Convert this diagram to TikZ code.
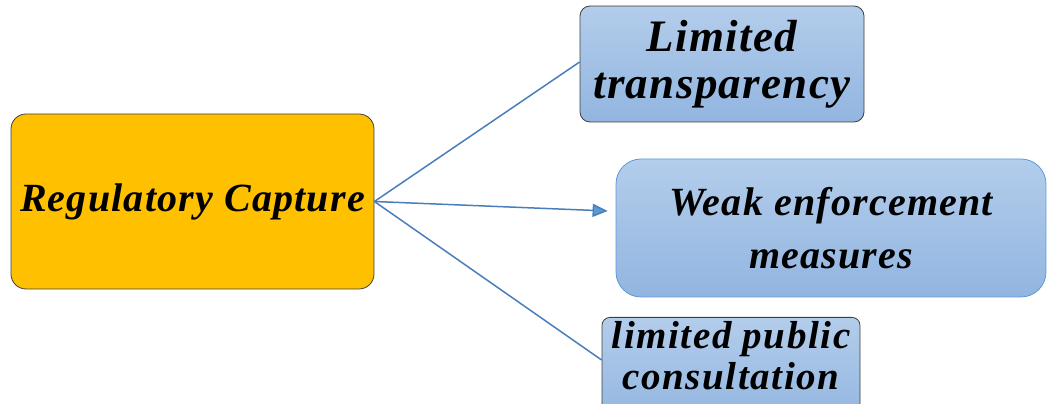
\documentclass[tikz,border=0pt]{standalone}
\usepackage{fontspec}
\setmainfont{Liberation Serif}
\usepackage{xcolor}
\usetikzlibrary{positioning,calc,arrows.meta}
\definecolor{captureorange}{HTML}{FFC000}
\definecolor{boxtop}{HTML}{B3CDEB}
\definecolor{boxbottom}{HTML}{92B5E0}
\definecolor{linkblue}{HTML}{4A7EBB}
\definecolor{tipblue}{HTML}{5B9BD5}
\definecolor{edgegray}{HTML}{3F3F3F}

\begin{document}
\begin{tikzpicture}[x=1pt,y=1pt]
\useasboundingbox (0,0) rectangle (1047,404);

\node[draw=edgegray, fill=captureorange, rounded corners=15pt, minimum width=363pt, minimum height=175pt, line width=0.8pt, align=center,
      font=\bfseries\itshape\addfontfeatures{LetterSpace=3}\fontsize{40}{47}\selectfont] (capture) at (192.5,202.5) {Regulatory Capture};
\node[draw=edgegray, top color=boxtop, bottom color=boxbottom, rounded corners=10pt, minimum width=284pt, minimum height=116pt, line width=0.8pt, align=center,
      font=\bfseries\itshape\addfontfeatures{LetterSpace=3}\fontsize{45}{47}\selectfont] (transp) at (722,340) {Limited\\ transparency};
\node[draw=tipblue, top color=boxtop, bottom color=boxbottom, rounded corners=25pt, minimum width=430pt, minimum height=138pt, line width=0.8pt, align=center,
      font=\bfseries\itshape\addfontfeatures{LetterSpace=3}\fontsize{40}{53}\selectfont] (weak) at (831,176) {Weak enforcement\\ measures};
\node[draw=edgegray, top color=boxtop, bottom color=boxbottom, rounded corners=8pt, minimum width=258pt, inner ysep=4pt, text depth=30pt, line width=0.8pt, align=center, anchor=north,
      font=\bfseries\itshape\addfontfeatures{LetterSpace=4}\fontsize{39}{41}\selectfont] (consult) at (731,87) {limited public\\ consultation};
\coordinate (weaktip) at ($(weak.west)+(-8,17)$);
\draw[linkblue, line width=1.5pt] (capture.east) -- ($(transp.west)+(0,2)$);
\draw[linkblue, line width=1.5pt, -{Triangle[length=15pt,width=13pt,fill=tipblue]}] (capture.east) -- (weaktip);
\draw[linkblue, line width=1.5pt] (capture.east) -- ($(consult.north west)+(0,-43)$);
\end{tikzpicture}
\end{document}
